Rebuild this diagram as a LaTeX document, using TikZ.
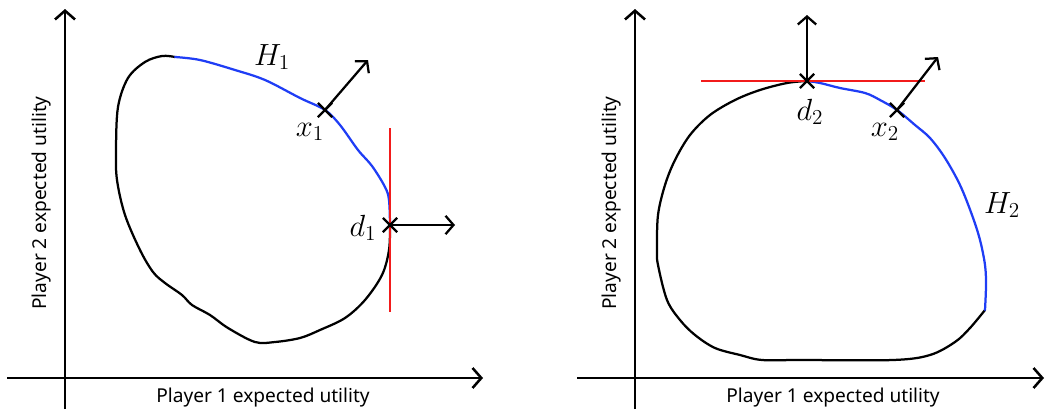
\documentclass[tikz,border=0pt]{standalone}
\usepackage{fontspec}
\setsansfont{Noto Sans}
\usetikzlibrary{arrows.meta, positioning, shapes.misc}
\definecolor{cblue}{HTML}{1F3DF5}
\definecolor{cred}{HTML}{F21B1B}
\tikzset{
  every picture/.style={line width=1.6pt},
  axis/.style={-{Straight Barb[length=2.2mm, width=5mm]}, line width=1.8pt},
  arrow/.style={-{Straight Barb[length=2mm, width=4.6mm]}, line width=1.6pt},
  hull/.style={line width=1.6pt, line join=round, line cap=round},
  tangent/.style={draw=cred, line width=1.6pt},
  xmark/.style={draw, cross out, minimum size=0.3cm, inner sep=0pt, line width=1.6pt},
  axlabel/.style={font=\sffamily\fontsize{13.6}{15}\selectfont},
  ptlabel/.style={font=\huge, scale=1.05, transform shape},
}

\begin{document}
\begin{tikzpicture}[x=0.025cm, y=-0.025cm]
  \useasboundingbox (0,0) rectangle (1045,414);
  % left panel: axes
  \draw[axis] (65,409) -- (65,9);
  \draw[axis] (7,378) -- (483,378);
  \node[axlabel] (px1) at (263,398) {Player 1 expected utility};
  \node[axlabel, rotate=90] (py1) at (42,203) {Player 2 expected utility};
  % left panel: hull H1
  \draw[hull] plot[smooth, tension=0.55] coordinates {(175,57) (162,56) (145,62) (128,78) (118,107) (116,150) (117,180) (125,215) (140,250) (153,272) (165,283) (182,295) (192,305) (210,315) (228,328) (255,342) (275,342) (300,338) (320,330) (345,318) (365,300) (382,275) (389,250) (390,225)};
  \draw[hull, cblue] plot[smooth, tension=0.55] coordinates {(175,57) (200,60) (235,70) (265,80) (300,98) (325,110) (340,125) (358,150) (372,166) (385,187) (389,200) (390,225)};
  \draw[tangent] (390,128) -- (390,312);
  \node[xmark] (x1) at (325,110) {};
  \node[xmark] (d1) at (390,225) {};
  \coordinate (x1tip) at (368,60);
  \coordinate (d1tip) at (455,225);
  \draw[arrow] (x1.center) -- (x1tip);
  \draw[arrow] (d1.center) -- (d1tip);
  \node[ptlabel] (h1lab) at (272,57) {$H_1$};
  \node[ptlabel] (x1lab) at (310,132) {$x_1$};
  \node[ptlabel] (d1lab) at (363,228) {$d_1$};
  % right panel: axes
  \draw[axis] (635,409) -- (635,9);
  \draw[axis] (577,378) -- (1044,378);
  \node[axlabel] (px2) at (833,398) {Player 1 expected utility};
  \node[axlabel, rotate=90] (py2) at (612,203) {Player 2 expected utility};
  % right panel: hull H2
  \draw[hull] plot[smooth, tension=0.55] coordinates {(807,81) (787,83) (760,90) (735,100) (710,115) (690,135) (675,160) (665,185) (658,215) (657,250) (658,265) (667,300) (680,320) (695,335) (715,348) (740,355) (762,360) (800,360) (893,360) (930,355) (955,342) (970,328) (985,310)};
  \draw[hull, cblue] plot[smooth, tension=0.55] coordinates {(807,81) (820,83) (840,88) (865,93) (880,100) (897,110) (915,125) (930,138) (945,158) (960,185) (972,215) (980,240) (985,265) (986,285) (985,310)};
  \draw[tangent] (701,81) -- (925,81);
  \node[xmark] (d2) at (807,81) {};
  \node[xmark] (x2) at (897,110) {};
  \coordinate (d2tip) at (807,15);
  \coordinate (x2tip) at (938,57);
  \draw[arrow] (d2.center) -- (d2tip);
  \draw[arrow] (x2.center) -- (x2tip);
  \node[ptlabel] (d2lab) at (810,112) {$d_2$};
  \node[ptlabel] (x2lab) at (885,132) {$x_2$};
  \node[ptlabel] (h2lab) at (1002,205) {$H_2$};
\end{tikzpicture}
\end{document}
